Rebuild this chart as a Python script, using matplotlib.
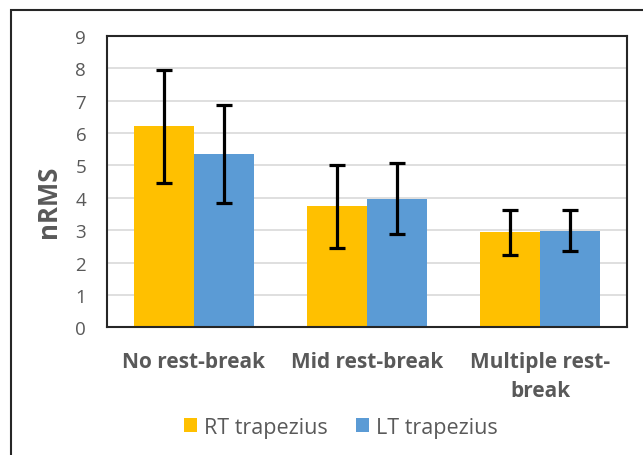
import matplotlib
matplotlib.use('Agg')
import matplotlib.pyplot as plt
import numpy as np
from matplotlib.patches import Rectangle

categories = ['No rest-break', 'Mid rest-break', 'Multiple rest-\nbreak']
rt_values = [6.2, 3.73, 2.93]
lt_values = [5.35, 3.97, 2.98]
rt_err = [1.75, 1.27, 0.69]
lt_err = [1.52, 1.1, 0.63]

plt.rcParams['font.family'] = ['Open Sans', 'DejaVu Sans']

fig = plt.figure(figsize=(6.43, 4.56), dpi=100)
ax = fig.add_axes([0.1664, 0.28, 0.8086, 0.6395])

x = np.arange(len(categories))
w = 0.347
err_kw = dict(ecolor='black', elinewidth=2.3, capsize=6, capthick=2.3)
ax.bar(x - w/2, rt_values, w, color='#ffc000', label='RT trapezius',
       yerr=rt_err, error_kw=err_kw, zorder=2)
ax.bar(x + w/2, lt_values, w, color='#5b9bd5', label='LT trapezius',
       yerr=lt_err, error_kw=err_kw, zorder=2)

ax.set_xlim(-0.5, 2.5)
ax.set_ylim(0, 9)
ax.set_yticks(range(10))
ax.yaxis.grid(True, color='#d9d9d9', linewidth=1.2, zorder=0)
ax.set_axisbelow(True)
ax.tick_params(axis='y', length=0, labelsize=13.5, labelcolor='#595959', pad=15)
ax.tick_params(axis='x', length=0, labelsize=15, labelcolor='#595959', pad=17)
ax.set_xticks(x)
ax.set_xticklabels(categories, fontweight='bold', linespacing=1.5)
for s in ax.spines.values():
    s.set_color('#262626')
    s.set_linewidth(1.5)

ax.set_ylabel('nRMS', fontsize=18.5, fontweight='bold', color='#595959', labelpad=10)
ax.yaxis.label.set_y(0.433)

ax.legend(loc='center', bbox_to_anchor=(0.45, -0.342), ncol=2, frameon=False,
          fontsize=15.5, labelcolor='#595959', handlelength=0.6, handleheight=0.6,
          handletextpad=0.35, columnspacing=1.3)

fig.patches.append(Rectangle((11/643, -0.1), 1.2, 1 - 11/456 + 0.1,
                             transform=fig.transFigure, fill=False,
                             edgecolor='#262626', linewidth=1.5))

fig.savefig('out.png', dpi=100)
